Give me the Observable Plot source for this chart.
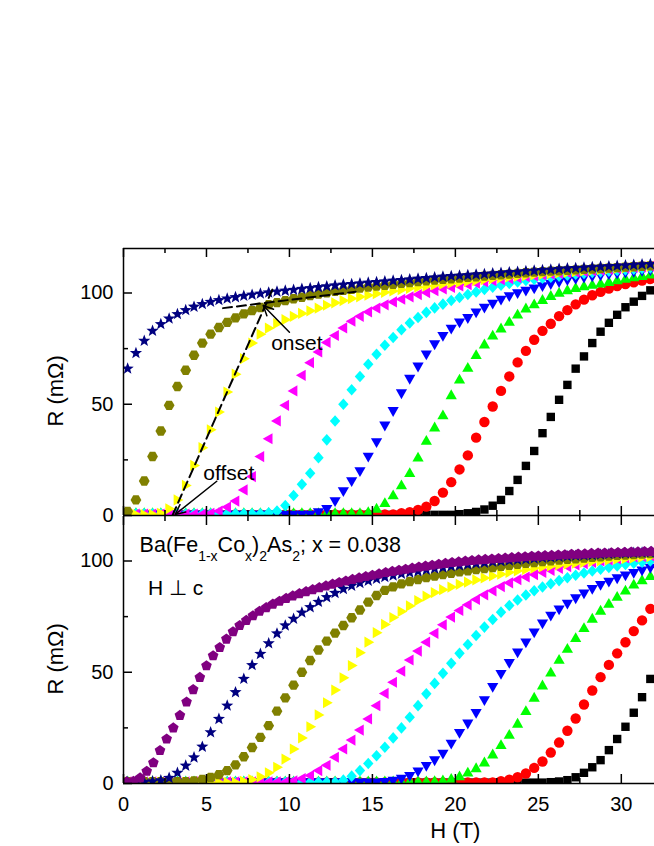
<!DOCTYPE html>
<html><head><meta charset="utf-8">
<script src="https://cdn.jsdelivr.net/npm/d3@7"></script>
<script src="https://cdn.jsdelivr.net/npm/@observablehq/plot@0.6"></script>
<style>
body{margin:0;background:#fff;}
#chart{width:654px;height:846px;overflow:hidden;position:relative;background:#fff;}
#chart svg{display:block;overflow:visible;}
</style></head><body><div id="chart"></div>
<script>
// Field grid (T)
const H = [0.25,0.75,1.25,1.75,2.25,2.75,3.25,3.75,4.25,4.75,5.25,5.75,6.25,6.75,7.25,7.75,8.25,8.75,9.25,9.75,10.25,10.75,11.25,11.75,12.25,12.75,13.25,13.75,14.25,14.75,15.25,15.75,16.25,16.75,17.25,17.75,18.25,18.75,19.25,19.75,20.25,20.75,21.25,21.75,22.25,22.75,23.25,23.75,24.25,24.75,25.25,25.75,26.25,26.75,27.25,27.75,28.25,28.75,29.25,29.75,30.25,30.75,31.25,31.75];
const HP = [0.2,0.6,1,1.4,1.8,2.2,2.6,3,3.4,3.8,4.2,4.6,5,5.4,5.8,6.2,6.6,7,7.4,7.8,8.2,8.6,9,9.4,9.8,10.2,10.6,11,11.4,11.8,12.2,12.6,13,13.4,13.8,14.2,14.6,15,15.4,15.8,16.2,16.6,17,17.4,17.8,18.2,18.6,19,19.4,19.8,20.2,20.6,21,21.4,21.8,22.2,22.6,23,23.4,23.8,24.2,24.6,25,25.4,25.8,26.2,26.6,27,27.4,27.8,28.2,28.6,29,29.4,29.8,30.2,30.6,31,31.4,31.8];

// Top panel R (mOhm)
const topSquare = [0.3,0.3,0.3,0.3,0.3,0.3,0.3,0.3,0.3,0.3, 0.3,0.3,0.3,0.3,0.3,0.3,0.3,0.3,0.3,0.3, 0.3,0.3,0.3,0.3,0.3,0.3,0.3,0.3,0.3,0.3, 0.3,0.3,0.3,0.3,0.3,0.3,0.3,0.3,0.3,0.3, 0.6,1,1.6,2.7,4.4,7,11,16,22.3,29, 37,44.3,52,58.7,66,71.5,77.5,82.6,86.6,90.2, 93.6,96.1,98.7,101.2];
const topCircle = [0.5,0.5,0.5,0.5,0.5,0.5,0.5,0.5,0.5,0.5, 0.5,0.5,0.5,0.5,0.5,0.5,0.5,0.5,0.5,0.5, 0.5,0.5,0.5,0.5,0.5,0.5,0.5,0.5,0.5,0.5, 0.5,0.5,0.5,1,1.5,2.5,4,6.5,10.3,15, 20.7,27,35,42,49,56,62.5,68.8,74,79, 83,86.2,89.6,92.3,94.9,97,99,100.5,102,103.1, 104,104.8,105.6,106.3];
const topUtri = [1,1,1,1,1,1,1,1,1,1, 1,1,1,1,1,1,1,1,1,1, 1,1,1,1,1,1,1,1,1,1.5, 3,5.5,9,13.5,19,26,33.5,39.5,45,54, 61,66.3,72,76.8,80.8,84,87,90.2,93,94.8, 96.8,98.6,100,101.2,102.2,103,103.6,104.2,104.9,105.6, 106.3,107,107.6,108.2];
const topDtri = [0.4,0.4,0.4,0.4,0.4,0.4,0.4,0.4,0.4,0.4, 0.4,0.4,0.4,0.4,0.4,0.4,0.4,0.4,0.4,0.4, 0.4,0.4,0.4,1.5,3,6.5,11,15.5,20,26.5, 33,40.5,47,55,61.5,67,72.5,77,80.8,84, 86.8,88.8,91.3,93.5,95.3,97.1,98.6,100,101.1,102.1, 103.1,104.1,105,105.8,106.4,107,107.5,108,108.4,108.8, 109.2,109.6,110,110.3];
const topDia = [0.8,0.8,0.8,0.8,0.8,0.8,0.8,0.8,0.8,0.8, 0.8,0.8,0.8,0.8,0.8,0.8,0.8,1.2,2,4.5, 9,14,19,26,34,42.5,50,56.5,62.5,68, 72.5,76.5,80,83.5,86.5,89,91.3,93.3,95,96.6, 98,99.3,100.5,101.6,102.6,103.5,104.3,105,105.6,106.1, 106.6,107.1,107.6,108,108.4,108.8,109.2,109.5,109.8,110.1, 110.4,110.7,111,111.3];
const topLtri = [0.6,0.6,0.6,0.6,0.6,0.6,0.6,0.6,0.6,0.6, 1,2,3.8,6.5,11.5,17.5,26.5,34.5,42.5,49.5, 56,63,68.7,73.5,77.8,80.9,84.3,87.3,89.5,91.5, 93.2,94.7,96,97.2,98.3,99.3,100.2,101,101.8,102.5, 103.2,103.8,104.4,105,105.5,106,106.5,106.9,107.3,107.7, 108.1,108.5,108.8,109.1,109.4,109.7,110,110.3,110.6,110.9, 111.2,111.5,111.7,112];
const topRtri = [0.4,0.4,0.4,0.5,1,3,7,13.5,22.5,30.5, 38.5,46.5,55.5,63.5,70.5,77.5,81.5,84.2,86.3,88, 89.5,90.8,92,93.2,94.5,95.6,96.6,97.5,98.3,99, 99.7,100.3,100.9,101.5,102.1,102.6,103.1,103.6,104,104.4, 104.8,105.2,105.6,106,106.4,106.8,107.2,107.5,107.8,108.1, 108.4,108.7,109,109.3,109.6,109.9,110.2,110.5,110.8,111, 111.3,111.5,111.8,112];
const topHex = [1.8,7,15.5,26.5,38,49.5,58,65.3,72,77.5, 81.5,84.5,86.8,88.8,90.6,92.1,93.5,94.7,95.7,96.6, 97.4,98.1,98.8,99.5,100.1,100.7,101.2,101.7,102.2,102.7, 103.1,103.5,103.9,104.3,104.7,105.1,105.5,105.8,106.1,106.4, 106.7,107,107.3,107.6,107.9,108.2,108.5,108.8,109.1,109.4, 109.6,109.8,110,110.2,110.4,110.6,110.8,111,111.2,111.4, 111.6,111.8,112,112.2];
const topStar = [66,73,78.5,83,86,88.5,90.5,92.3,93.8,95, 96,96.8,97.5,98.1,98.7,99.2,99.7,100.2,100.6,101, 101.4,101.8,102.2,102.6,103,103.4,103.7,104,104.3,104.6, 104.9,105.2,105.5,105.8,106.1,106.4,106.7,107,107.3,107.6, 107.8,108,108.3,108.5,108.8,109,109.3,109.5,109.8,110, 110.3,110.5,110.8,111,111.2,111.4,111.6,111.8,112,112.2, 112.4,112.6,112.8,113];

// Bottom panel R (mOhm)
const botSquare = [0.4,0.4,0.4,0.4,0.4,0.4,0.4,0.4,0.4,0.4, 0.4,0.4,0.4,0.4,0.4,0.4,0.4,0.4,0.4,0.4, 0.4,0.4,0.4,0.4,0.4,0.4,0.4,0.4,0.4,0.4, 0.4,0.4,0.4,0.4,0.4,0.4,0.4,0.4,0.4,0.4, 0.4,0.4,0.4,0.4,0.4,0.4,0.4,0.4,0.4,0.4, 0.4,0.6,0.9,1.5,2.8,4.8,7.3,10.5,15,20, 25.5,31.8,38.8,47];
const botCircle = [0.5,0.5,0.5,0.5,0.5,0.5,0.5,0.5,0.5,0.5, 0.5,0.5,0.5,0.5,0.5,0.5,0.5,0.5,0.5,0.5, 0.5,0.5,0.5,0.5,0.5,0.5,0.5,0.5,0.5,0.5, 0.5,0.5,0.5,0.5,0.5,0.5,0.5,0.5,0.5,0.5, 0.5,0.5,0.5,0.5,0.5,1,1.7,2.8,4.5,7, 9.9,13.9,18.4,23.7,29.2,35.5,41.8,47.8,53.3,58.5, 63.5,68.5,73.3,78.5];
const botUtri = [0.9,0.9,0.9,0.9,0.9,0.9,0.9,0.9,0.9,0.9, 0.9,0.9,0.9,0.9,0.9,0.9,0.9,0.9,0.9,0.9, 0.9,0.9,0.9,0.9,0.9,0.9,0.9,0.9,0.9,0.9, 0.9,0.9,0.9,0.9,0.9,0.9,0.9,1,1.3,2, 3.2,4.8,6.8,9.4,13,17.2,21.8,26.8,32.5,38.5, 44,49.8,55.5,60.5,65.3,69.8,74,77.6,80.7,83.8, 86.6,89.3,91.3,93.2];
const botDtri = [0.5,0.5,0.5,0.5,0.5,0.5,0.5,0.5,0.5,0.5, 0.5,0.5,0.5,0.5,0.5,0.5,0.5,0.5,0.5,0.5, 0.5,0.5,0.5,0.5,0.5,0.5,0.5,0.5,0.5,0.5, 0.5,0.8,1.3,2.2,3.5,5.5,8,10.5,13.5,18, 22.8,27,31.8,37.5,43.5,49.3,54.3,59,63.5,68, 72,75.5,78.3,80.9,83.3,85.5,87.5,89.3,90.8,92.3, 93.6,94.7,95.8,97];
const botDia = [0.6,0.6,0.6,0.6,0.6,0.6,0.6,0.6,0.6,0.6, 0.6,0.6,0.6,0.6,0.6,0.6,0.6,0.6,0.6,0.6, 0.6,0.6,0.6,0.6,0.6,0.6,1.5,3.3,5.8,9, 12.5,16.3,20.5,25,29.8,35,40.3,45,49.5,54, 58.5,62.5,66.5,70.3,73.7,77,80,82.5,84.7,86.6, 88.3,89.8,91.2,92.5,93.6,94.6,95.5,96.3,97.1,97.8, 98.4,99,99.5,100];
const botLtri = [0.7,0.7,0.7,0.7,0.7,0.7,0.7,0.7,0.7,0.7, 0.7,0.7,0.7,0.7,0.7,0.7,0.7,0.7,0.7,0.7, 1.2,2.2,3.6,5.8,8.2,11.8,15.5,19.5,24,29, 35,40.5,45.5,50.5,55.5,59.5,63.5,67.5,71.3,74.8, 77.8,80.3,82.7,84.8,86.6,88.5,90.2,91.6,92.8,93.9, 94.9,95.8,96.7,97.5,98.2,98.8,99.4,100,100.5,101, 101.4,101.8,102.1,102.4];
const botRtri = [0.5,0.5,0.5,0.5,0.5,0.5,0.5,0.5,0.5,0.5, 0.5,0.5,0.5,0.5,1,1.8,3,4.8,7.3,11, 15.5,20.5,25.5,30.8,36.3,42,47.5,53,58.8,63.5, 67.8,71.5,74.6,77.3,79.8,82.2,84.2,85.8,87.1,88.3, 89.5,90.5,91.5,92.4,93.3,94.1,94.9,95.6,96.2,96.8, 97.3,97.8,98.2,98.6,99,99.4,99.8,100.1,100.5,100.8, 101.1,101.4,101.7,102];
const botHex = [0.8,0.8,0.8,0.8,0.8,0.8,0.8,0.8,1.2,1.8, 2.7,4,5.8,8.4,12,16.2,20.7,26,32.5,38.5, 44.2,50,55.3,60,64,67.6,71,74.5,78,81.5, 84.5,86.8,88.4,89.7,90.8,91.7,92.5,93.2,93.9,94.5, 95.1,95.6,96.1,96.6,97.1,97.6,98.1,98.5,98.9,99.3, 99.7,100.1,100.4,100.7,101,101.3,101.6,101.9,102.2,102.5, 102.7,102.9,103.1,103.3];
const botStar = [0.3,0.4,0.6,0.9,1.4,2.5,4.8,8,11.7,16.5, 23,29,35,41,47,53.2,58.2,63,67.4,71, 74,76.8,79.2,81.6,83.7,85.6,87.4,88.9,90.1,91.1, 92,92.8,93.5,94.2,94.8,95.4,96,96.6,97.1,97.6, 98,98.4,98.8,99.2,99.6,99.9,100.2,100.5,100.8,101.1, 101.4,101.6,101.9,102.1,102.3,102.5,102.7,102.9,103.1,103.3, 103.4,103.6,103.7,103.8];
const botPent = [0.8,1,2.5,5.5,9.3,14.8,20,25,30.6,36.6, 42.2,47.7,52.9,57.4,61.1,64.9,68.2,71,73.3,75.4, 77.4,79,80.6,81.9,83.2,84.3,85.3,86.2,87.1,88, 88.8,89.6,90.3,91,91.7,92.4,93,93.6,94.2,94.8, 95.3,95.8,96.3,96.8,97.3,97.7,98.1,98.5,98.9,99.3, 99.6,99.9,100.2,100.5,100.7,100.9,101.1,101.3,101.5,101.7, 101.9,102.1,102.2,102.4,102.5,102.7,102.8,103,103.1,103.2, 103.4,103.5,103.6,103.7,103.8,103.9,104,104.1,104.2,104.3];

// Axis ticks
const xDomain = [0, 32];
const yDomain = [0, 120];
const xMajor = [0,5,10,15,20,25,30];
const xMinor = [2.5,7.5,12.5,17.5,22.5,27.5];
const yMajor = [0,50,100];
const yMinor = [25,75];

// Annotations (data coordinates)
const dashSteepH = [2.95, 9.0], dashSteepR = [0, 102];
const dashFlatH = [6.0, 14.0], dashFlatR = [93.2, 100.6];
const onsetArrow = [10.0, 82.4, 8.42, 94.4];
const offsetArrow = [5.62, 15.4, 3.11, 0.45];
const onsetText = ["onset", 8.9, 74.2];
const offsetText = ["offset", 4.81, 16.0];
const hperpText = ["H \u22A5 c", 1.47, 84.7];
const formulaPos = [1.0, 103.8];
const yTitle = "R (m\u03A9)";
const xTitle = "H (T)";

// custom symbols
function poly(pts){ return {draw(ctx){ ctx.moveTo(pts[0][0],pts[0][1]); for(let i=1;i<pts.length;i++) ctx.lineTo(pts[i][0],pts[i][1]); ctx.closePath(); }}; }
function regular(n, r, a0){ const p=[]; for(let i=0;i<n;i++){const a=a0+i*2*Math.PI/n; p.push([r*Math.cos(a), r*Math.sin(a)]);} return p; }
function starPts(ro, ri){ const p=[]; for(let i=0;i<10;i++){const a=-Math.PI/2+i*Math.PI/5; const r=i%2?ri:ro; p.push([r*Math.cos(a), r*Math.sin(a)]);} return p; }
const symSquare = poly([[-4.2,-4.2],[4.2,-4.2],[4.2,4.2],[-4.2,4.2]]);
const symCircle = {draw(ctx){ctx.moveTo(5.2,0);ctx.arc(0,0,5.2,0,2*Math.PI);ctx.closePath();}};
const symUp = poly([[0,-6],[5.6,3.8],[-5.6,3.8]]);
const symDown = poly([[0,6],[5.6,-3.8],[-5.6,-3.8]]);
const symLeft = poly([[-6,0],[3.8,-5.6],[3.8,5.6]]);
const symRight = poly([[6,0],[-3.8,-5.6],[-3.8,5.6]]);
const symDiamond = poly([[0,-5.8],[5.2,0],[0,5.8],[-5.2,0]]);
const symHex = poly(regular(6,5.4,0));
const symPent = poly(regular(5,5.6,-Math.PI/2));
const symStar = poly(starPts(6.4,2.7));

const W = 654, ML = 123, MR = 0, PH = 267, PW = W - ML - MR;
const FONT = "Liberation Sans, Arial, Helvetica, sans-serif";

function pts(hs, vs){ return hs.map((h,i)=>({H:h, R:vs[i]})); }
function dots(hs, vs, sym, color){
  return Plot.dot(pts(hs, vs), {x:"H", y:"R", symbol:sym, fill:color, stroke:"none", r:5, clip:true});
}
function tickMarks(){
  const s = {stroke:"black", strokeWidth:1.5};
  return [
    Plot.tickX(xMajor, {x:d=>d, insetTop:PH-9, ...s}),
    Plot.tickX(xMinor, {x:d=>d, insetTop:PH-5, ...s}),
    Plot.tickX(xMajor, {x:d=>d, insetBottom:PH-9, ...s}),
    Plot.tickX(xMinor, {x:d=>d, insetBottom:PH-5, ...s}),
    Plot.tickY(yMajor, {y:d=>d, insetRight:PW-9, ...s}),
    Plot.tickY(yMinor, {y:d=>d, insetRight:PW-5, ...s}),
    Plot.ruleX([0], s)
  ];
}
function yLabels(){
  return [
    Plot.text(yMajor, {x:0, y:d=>d, text:d=>String(d), dx:-10, textAnchor:"end", fontSize:20, fill:"black"}),
    Plot.text([yTitle], {x:0, y:56, text:d=>d, dx:-68, rotate:-90, fontSize:22, fill:"black"})
  ];
}

const chart = document.getElementById("chart");

const topPlot = Plot.plot({
  width: W, height: 515, marginTop: 248, marginBottom: 0, marginLeft: ML, marginRight: MR,
  x: {domain: xDomain, axis: null},
  y: {domain: yDomain, axis: null},
  style: {fontFamily: FONT, fontSize: "20px", color: "black", background: "transparent", overflow: "visible"},
  marks: [
    dots(H, topSquare, symSquare, "#000000"),
    dots(H, topCircle, symCircle, "#ff0000"),
    dots(H, topUtri, symUp, "#00ff00"),
    dots(H, topDtri, symDown, "#0000ff"),
    dots(H, topDia, symDiamond, "#00ffff"),
    dots(H, topLtri, symLeft, "#ff00ff"),
    dots(H, topRtri, symRight, "#ffff00"),
    dots(H, topHex, symHex, "#808000"),
    dots(H, topStar, symStar, "#000080"),
    Plot.line(pts(dashSteepH, dashSteepR), {x:"H", y:"R", stroke:"black", strokeWidth:2, strokeDasharray:"9,5", clip:true}),
    Plot.line(pts(dashFlatH, dashFlatR), {x:"H", y:"R", stroke:"black", strokeWidth:2, strokeDasharray:"9,5", clip:true}),
    Plot.arrow([onsetArrow, offsetArrow], {x1:d=>d[0], y1:d=>d[1], x2:d=>d[2], y2:d=>d[3], stroke:"black", strokeWidth:1.5, headLength:11, headAngle:50, inset:0}),
    Plot.text([onsetText, offsetText], {x:d=>d[1], y:d=>d[2], text:d=>d[0], textAnchor:"start", lineAnchor:"bottom", fontSize:21, fill:"black"}),
    ...tickMarks(),
    Plot.ruleY([120], {stroke:"black", strokeWidth:1.5}),
    Plot.ruleY([0], {stroke:"black", strokeWidth:1.5}),
    ...yLabels()
  ]
});
chart.appendChild(topPlot);

const botPlot = Plot.plot({
  width: W, height: 331, marginTop: 1, marginBottom: 63, marginLeft: ML, marginRight: MR,
  x: {domain: xDomain, axis: null},
  y: {domain: yDomain, axis: null},
  style: {fontFamily: FONT, fontSize: "20px", color: "black", background: "transparent", overflow: "visible"},
  marks: [
    dots(H, botSquare, symSquare, "#000000"),
    dots(H, botCircle, symCircle, "#ff0000"),
    dots(H, botUtri, symUp, "#00ff00"),
    dots(H, botDtri, symDown, "#0000ff"),
    dots(H, botDia, symDiamond, "#00ffff"),
    dots(H, botLtri, symLeft, "#ff00ff"),
    dots(H, botRtri, symRight, "#ffff00"),
    dots(H, botHex, symHex, "#808000"),
    dots(H, botStar, symStar, "#000080"),
    dots(HP, botPent, symPent, "#800080"),
    Plot.text([hperpText], {x:d=>d[1], y:d=>d[2], text:d=>d[0], textAnchor:"start", lineAnchor:"bottom", fontSize:21, fill:"black"}),
    ...tickMarks(),
    Plot.ruleY([0], {stroke:"black", strokeWidth:1.5}),
    Plot.text(xMajor, {x:d=>d, y:0, text:d=>String(d), dy:21, fontSize:20, fill:"black"}),
    Plot.text([xTitle], {x:20, y:0, text:d=>d, dy:47, fontSize:22, fill:"black"}),
    ...yLabels()
  ]
});
chart.appendChild(botPlot);

// chemical formula with subscripts, positioned through the plot's scales
{
  const sx = botPlot.scale("x"), sy = botPlot.scale("y");
  const t = d3.select(botPlot).append("text")
    .attr("x", sx.apply(formulaPos[0])).attr("y", sy.apply(formulaPos[1]))
    .attr("text-anchor", "start")
    .style("text-anchor", "start")
    .attr("font-family", FONT).attr("font-size", 21.5).attr("fill", "black");
  const parts = [["Ba(Fe",0],["1-x",1],["Co",0],["x",1],[")",0],["2",1],["As",0],["2",1],["; x = 0.038",0]];
  let sub = 0;
  for (const [s, isSub] of parts) {
    const dy = isSub && !sub ? 9 : (!isSub && sub ? -9 : 0);
    const ts = t.append("tspan").text(s).attr("text-anchor", "start");
    if (dy) ts.attr("dy", dy);
    if (isSub) ts.attr("font-size", 14);
    sub = isSub;
  }
}
</script></body></html>
